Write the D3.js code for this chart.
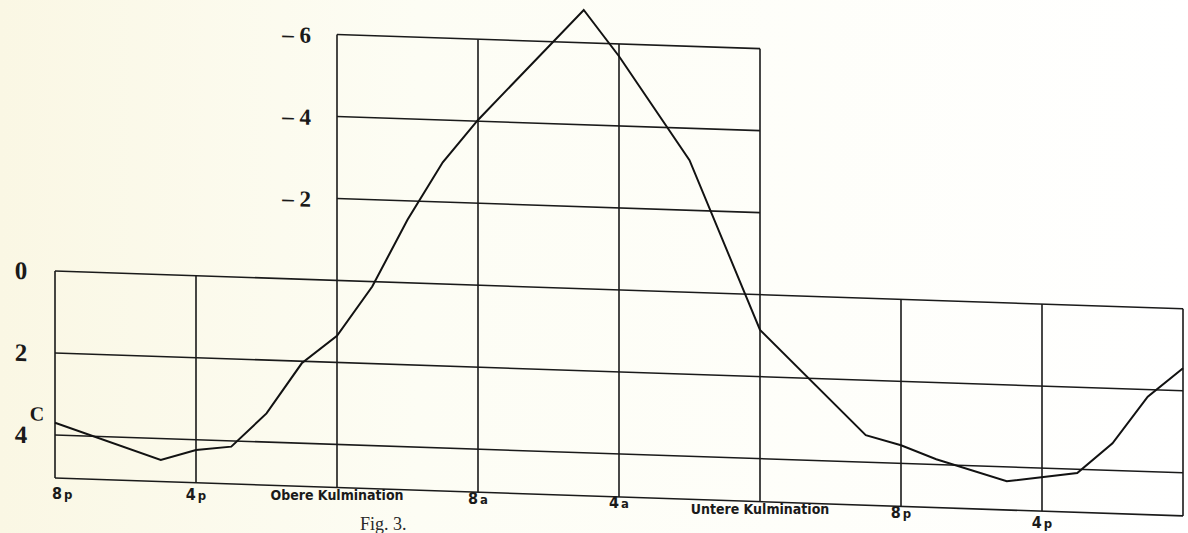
<!DOCTYPE html>
<html>
<head>
<meta charset="utf-8">
<script src="https://cdn.jsdelivr.net/npm/d3@7"></script>
<style>
  html, body { margin: 0; padding: 0; background: #fdfcf6; overflow: hidden; }
</style>
</head>
<body>
<div id="chart"></div>
<script>
// hourly readings that form the corners of the curve (hours after the left edge)
const hours = [0, 3, 4, 5, 6, 7, 8, 9, 10, 11, 12, 15, 16, 18, 20, 23, 24, 25, 27, 29, 30, 31, 32]
const values = [3.70, 4.52, 4.25, 4.14, 3.30, 2.05, 1.35, 0.12, -1.54, -2.97, -4.03, -6.80, -5.70, -3.22, 0.86, 3.34, 3.56, 3.87, 4.35, 4.09, 3.34, 2.17, 1.45]

const tickHours = [0, 4, 8, 12, 16, 20, 24, 28]
const tickLabels = ['8p', '4p', 'Obere Kulmination', '8a', '4a', 'Untere Kulmination', '8p', '4p']
const lowerTicks = [0, 2, 4]
const upperTicks = [-6, -4, -2]

const w = 1188
const h = 533
const originX = 55
const originY = 271
const skew = 1.92   // the scanned sheet runs slightly downhill

const x = d3.scaleLinear().domain([0, 32]).range([0, 1128])
const y = d3.scaleLinear().domain([0, 5]).range([0, 205])

const lowBottom = 5.05
const upperStart = 8
const upperEnd = 20

const svg = d3.create('svg')
  .attr('width', w)
  .attr('height', h)
  .attr('viewBox', [0, 0, w, h])

const grad = svg.append('defs').append('linearGradient')
  .attr('id', 'paper')
  .attr('x1', 0).attr('x2', 1).attr('y1', 0).attr('y2', 0)
grad.append('stop').attr('offset', 0).attr('stop-color', '#faf7e4')
grad.append('stop').attr('offset', 0.35).attr('stop-color', '#fdfdf4')
grad.append('stop').attr('offset', 1).attr('stop-color', '#ffffff')

svg.append('rect')
  .attr('width', w)
  .attr('height', h)
  .attr('fill', 'url(#paper)')

const g = svg.append('g')
  .attr('transform', `translate(${originX}, ${originY}) skewY(${skew})`)

const grid = g.append('g')
  .attr('stroke', '#1a1a1a')
  .attr('stroke-width', 1.6)
  .attr('fill', 'none')

// lower frame: horizontal rules
grid.selectAll('line.low')
  .data(lowerTicks.concat([lowBottom]))
  .join('line')
    .attr('class', 'low')
    .attr('x1', x(0))
    .attr('x2', x(32))
    .attr('y1', d => y(d))
    .attr('y2', d => y(d))

// upper frame: horizontal rules
grid.selectAll('line.up')
  .data(upperTicks)
  .join('line')
    .attr('class', 'up')
    .attr('x1', x(upperStart))
    .attr('x2', x(upperEnd))
    .attr('y1', d => y(d))
    .attr('y2', d => y(d))

// vertical rules every four hours
grid.selectAll('line.vert')
  .data(d3.range(0, 33, 4))
  .join('line')
    .attr('class', 'vert')
    .attr('x1', d => x(d))
    .attr('x2', d => x(d))
    .attr('y1', d => d >= upperStart && d <= upperEnd ? y(-6) : y(0))
    .attr('y2', y(lowBottom))

const points = hours.map((hr, i) => ({ hr, v: values[i] }))

const line = d3.line()
  .x(d => x(d.hr))
  .y(d => y(d.v))

g.append('path')
  .datum(points)
  .attr('d', line)
  .attr('fill', 'none')
  .attr('stroke', '#121212')
  .attr('stroke-width', 2)
  .attr('stroke-linejoin', 'miter')

const serif = '"Liberation Serif", "DejaVu Serif", serif'

g.selectAll('text.low')
  .data(lowerTicks)
  .join('text')
    .attr('class', 'low')
    .attr('x', -34)
    .attr('y', d => y(d))
    .attr('dy', '0.36em')
    .attr('text-anchor', 'middle')
    .style('font-family', serif)
    .style('font-weight', 'bold')
    .style('font-size', '25px')
    .attr('fill', '#1a1a1a')
    .text(d => d)

g.append('text')
  .attr('x', -18)
  .attr('y', y(4) - 14)
  .attr('text-anchor', 'middle')
  .style('font-family', serif)
  .style('font-weight', 'bold')
  .style('font-size', '20px')
  .attr('fill', '#1a1a1a')
  .text('C')

g.selectAll('text.up')
  .data(upperTicks)
  .join('text')
    .attr('class', 'up')
    .attr('x', x(upperStart) - 26)
    .attr('y', d => y(d))
    .attr('dy', '0.4em')
    .attr('text-anchor', 'end')
    .style('font-family', serif)
    .style('font-weight', 'bold')
    .style('font-size', '23px')
    .attr('fill', '#1a1a1a')
    .text(d => '\u2013  ' + Math.abs(d))

// hour labels along the bottom, the sheet curls down at the right
const labelY = d3.scaleLinear()
  .domain([55, 337, 478, 619, 765, 901, 1044])
  .range([499, 500, 504, 508, 514, 518, 528])

const labels = svg.append('g')
  .style('font-family', '"DejaVu Sans Condensed", "DejaVu Sans", sans-serif')
  .attr('fill', '#1a1a1a')

tickHours.forEach((hr, i) => {
  const label = tickLabels[i]
  const px = originX + x(hr)
  const t = labels.append('text')
    .attr('x', i === 0 ? px - 3 : px)
    .attr('y', labelY(px))
    .attr('text-anchor', i === 0 ? 'start' : 'middle')
  const m = label.match(/^(\d)([ap])$/)
  if (m) {
    t.append('tspan')
      .style('font-weight', 'bold')
      .style('font-size', '16px')
      .text(m[1])
    t.append('tspan')
      .attr('dx', 2)
      .style('font-weight', 'bold')
      .style('font-size', '13px')
      .text(m[2])
  } else {
    t.style('font-size', '14px')
      .style('font-weight', 'bold')
      .text(label)
  }
})

svg.append('text')
  .attr('x', 360)
  .attr('y', 530)
  .style('font-family', serif)
  .style('font-size', '18px')
  .attr('fill', '#2a2a2a')
  .text('Fig. 3.')

d3.select('#chart')
  .append(() => svg.node())
</script>
</body>
</html>
